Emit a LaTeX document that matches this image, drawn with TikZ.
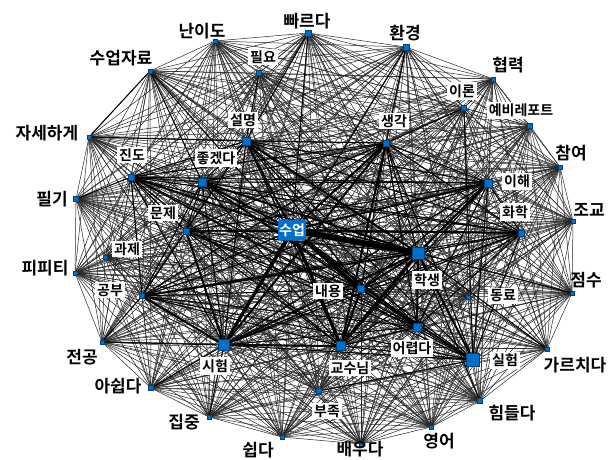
\documentclass[tikz,border=0pt]{standalone}
\usepackage{fontspec}
\newfontfamily\kr[BoldFont={Noto Sans CJK KR Bold}]{Noto Sans CJK KR}
\usetikzlibrary{positioning,backgrounds}
\definecolor{nodeblue}{RGB}{0,112,204}

\begin{document}
\begin{tikzpicture}[
    x=1pt, y=-1pt,
    marker/.style = {rectangle, fill=nodeblue, draw=nodeblue!60!black, line width=0.3pt, inner sep=0pt},
    hub/.style = {rectangle, fill=nodeblue, rounded corners=2pt, text=white, font=\kr\bfseries\fontsize{14}{14}\selectfont, minimum width=26pt, minimum height=21pt, inner sep=1pt},
    outer/.style = {font=\kr\bfseries\fontsize{17}{17}\selectfont, inner sep=1pt},
    inner/.style = {font=\kr\bfseries\fontsize{14}{14}\selectfont, fill=white, inner sep=2pt},
    edgethin/.style = {black!85, line width=0.5pt},
    edgemid/.style = {black, line width=1pt},
    edgethick/.style = {black, line width=2pt},
    edgeheavy/.style = {black, line width=3.2pt},
    edgemax/.style = {black, line width=6pt}
]
    \useasboundingbox (0,0) rectangle (613,459);

    % Hub
    \node[hub] (sueop) at (292,230) {수업};

    % Markers
    \foreach \n/\x/\y/\s in {
        haksaeng/418/253/12, siheom/224/345/11, silheom/473/360/13,
        gyosunim/341/346/9, naeyong/361/289/7, eoryeopda/417/327/8,
        seolmyeong/246/141/8, joketda/202/182/8, saenggak/386/143/6,
        ihae/488/183/8, hwahak/521/233/6, munje/186/231/6,
        gongbu/142/296/5, jindo/131/177/6, dongryo/468/297/4,
        iron/464/108/5, pilyo/259/73/5, gwaje/105/257/4,
        yebi/530/126/5, jasehage/89/137/4, pilgi/76/199/5,
        jaryo/150/71/4, nanido/215/41/4, ppareuda/308/33/6,
        hwangyeong/406/47/6, hyeomnyeok/493/79/4, chamyeo/560/167/4,
        jogyo/573/221/4, jeomsu/572/293/4, gareuchida/547/349/4,
        himdeulda/480/401/5, yeongeo/431/427/4, baeuda/361/444/4,
        bujok/319/391/5, swipda/282/437/4, jipjung/209/417/4,
        aswipda/151/388/5, jeongong/102/342/4, pipiti/75/273/4}
        \node[marker, minimum size=\s pt] (\n) at (\x,\y) {};

    \def\allnodes{sueop,haksaeng,siheom,silheom,gyosunim,naeyong,eoryeopda,seolmyeong,joketda,saenggak,ihae,hwahak,munje,gongbu,jindo,dongryo,iron,pilyo,gwaje,yebi,jasehage,pilgi,jaryo,nanido,ppareuda,hwangyeong,hyeomnyeok,chamyeo,jogyo,jeomsu,gareuchida,himdeulda,yeongeo,baeuda,bujok,swipda,jipjung,aswipda,jeongong,pipiti}
    \def\corenodes{sueop,haksaeng,siheom,silheom,gyosunim,naeyong,eoryeopda,seolmyeong,joketda,saenggak,ihae,hwahak,munje,gongbu,jindo}

    % Co-occurrence links
    \begin{scope}[on background layer]
        \foreach \a [count=\i] in \allnodes {
            \foreach \b [count=\j] in \allnodes {
                \ifnum\j>\i \draw[edgethin] (\a) -- (\b); \fi
            }
        }
        \foreach \a [count=\i] in \corenodes {
            \foreach \b [count=\j] in \corenodes {
                \ifnum\j>\i \draw[edgemid] (\a) -- (\b); \fi
            }
        }
        \foreach \a/\b in {jaryo/sueop, jaryo/jasehage, jaryo/joketda, jeongong/siheom,
            iron/silheom, iron/saenggak, hwangyeong/saenggak, gongbu/jeongong,
            pilyo/seolmyeong, ppareuda/seolmyeong, jeomsu/haksaeng, gareuchida/haksaeng,
            bujok/silheom, himdeulda/haksaeng, jipjung/siheom, aswipda/siheom,
            hwangyeong/siheom, ppareuda/sueop, jasehage/seolmyeong, pilgi/jindo}
            \draw[edgemid] (\a) -- (\b);
        \foreach \a/\b in {sueop/seolmyeong, sueop/joketda, sueop/saenggak, sueop/hwahak,
            sueop/ihae, sueop/jindo, sueop/eoryeopda, siheom/munje, siheom/gongbu,
            siheom/gyosunim, haksaeng/siheom, haksaeng/silheom, haksaeng/seolmyeong,
            haksaeng/joketda, haksaeng/naeyong, haksaeng/eoryeopda, haksaeng/ihae,
            saenggak/gyosunim, saenggak/siheom, naeyong/gyosunim, gongbu/haksaeng}
            \draw[edgethick] (\a) -- (\b);
        \foreach \a/\b in {sueop/naeyong, sueop/gyosunim, haksaeng/gyosunim, sueop/siheom}
            \draw[edgeheavy] (\a) -- (\b);
        \draw[edgemax] (sueop) -- (haksaeng);
    \end{scope}

    % Outer labels
    \foreach \n/\x/\y/\t in {
        jasehage/47/133/자세하게, pilgi/52/199/필기, jaryo/121/58/수업자료,
        nanido/202/31/난이도, ppareuda/307/21/빠르다, hwangyeong/405/33/환경,
        hyeomnyeok/508/65/협력, chamyeo/571/153/참여, jogyo/589/210/조교,
        jeomsu/586/280/점수, gareuchida/575/365/가르치다, himdeulda/512/413/힘들다,
        yeongeo/439/441/영어, baeuda/360/449/배우다, swipda/258/450/쉽다,
        jipjung/184/422/집중, aswipda/118/386/아쉽다, jeongong/82/357/전공,
        pipiti/45/268/피피티}
        \node[outer] (l-\n) at (\x,\y) {\t};

    % Inner labels
    \foreach \n/\x/\y/\t in {
        seolmyeong/243/120/설명, joketda/216/158/좋겠다, jindo/132/155/진도,
        pilyo/263/57/필요, munje/163/213/문제, gwaje/127/249/과제,
        gongbu/110/290/공부, iron/462/91/이론, yebi/521/110/예비레포트,
        saenggak/394/121/생각, ihae/517/181/이해, hwahak/515/212/화학,
        haksaeng/427/280/학생, dongryo/503/296/동료, naeyong/328/291/내용,
        eoryeopda/412/348/어렵다, gyosunim/350/368/교수님, siheom/215/366/시험,
        silheom/505/360/실험, bujok/327/411/부족}
        \node[inner] (l-\n) at (\x,\y) {\t};
\end{tikzpicture}
\end{document}
